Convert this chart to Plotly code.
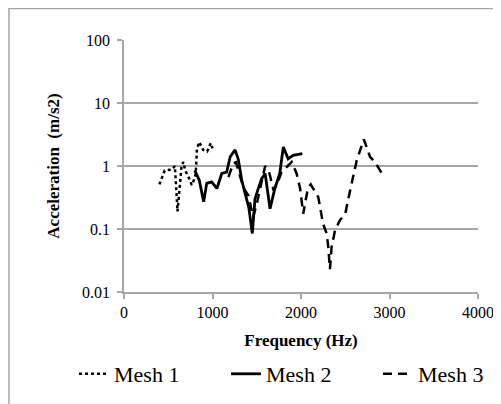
import plotly.graph_objects as go

mesh1_hz = [400, 460, 540, 575, 605, 650, 670, 692, 745, 765, 790, 810, 825, 850, 895, 940, 980, 1000]
mesh1_acc = [0.51, 0.85, 0.88, 1.0, 0.19, 1.0, 1.16, 0.85, 0.6, 0.5, 0.6, 0.75, 1.9, 2.4, 1.8, 1.7, 2.3, 1.9]

mesh2_hz = [800, 850, 900, 935, 990, 1050, 1105, 1160, 1200, 1255, 1290, 1330, 1370, 1410, 1450,
            1480, 1520, 1555, 1595, 1650, 1705, 1760, 1800, 1855, 1910, 1990, 2015]
mesh2_acc = [0.85, 0.6, 0.27, 0.53, 0.56, 0.44, 0.76, 0.8, 1.4, 1.8, 1.3, 0.6, 0.36, 0.22, 0.085,
             0.3, 0.45, 0.63, 0.76, 0.21, 0.44, 0.76, 2.0, 1.3, 1.48, 1.57, 1.57]

mesh3_hz = [1180, 1235, 1265, 1300, 1350, 1405, 1460, 1500, 1555, 1595, 1640, 1690, 1745, 1780, 1850,
            1895, 1950, 1990, 2025, 2045, 2080, 2110, 2140, 2195, 2250, 2290, 2308, 2327, 2346, 2385,
            2440, 2500, 2555, 2630, 2710, 2780, 2835, 2930]
mesh3_acc = [0.67, 1.1, 1.15, 0.8, 0.45, 0.34, 0.155, 0.25, 0.53, 1.0, 0.8, 0.41, 0.59, 0.8, 1.0,
             1.16, 0.76, 0.44, 0.175, 0.25, 0.46, 0.51, 0.44, 0.32, 0.12, 0.085, 0.052, 0.023, 0.052, 0.096,
             0.138, 0.175, 0.41, 1.23, 2.65, 1.4, 1.16, 0.7]

x_ticks = [0, 1000, 2000, 3000, 4000]
y_ticks = [0.01, 0.1, 1, 10, 100]
y_tick_labels = ["0.01", "0.1", "1", "10", "100"]

FONT = "Liberation Serif"
GRID = "#a6a6a6"

# page body has an 8px margin; figure is sized to fill the rest of the window
W, H = 493, 396
L, T, PW, PH = 116, 32, 354, 252

fig = go.Figure()
fig.add_trace(go.Scatter(x=mesh1_hz, y=mesh1_acc, mode="lines", name="Mesh 1",
                         line=dict(color="black", width=2.5, dash="dot")))
fig.add_trace(go.Scatter(x=mesh2_hz, y=mesh2_acc, mode="lines", name="Mesh 2",
                         line=dict(color="black", width=2.8, dash="solid")))
fig.add_trace(go.Scatter(x=mesh3_hz, y=mesh3_acc, mode="lines", name="Mesh 3",
                         line=dict(color="black", width=2.5, dash="9px,6px")))

fig.update_layout(
    width=W, height=H,
    margin=dict(l=L, r=W - L - PW, t=T, b=H - T - PH, autoexpand=False),
    paper_bgcolor="white", plot_bgcolor="white",
    font=dict(family=FONT, color="black", size=16),
    showlegend=True,
    legend=dict(orientation="h", x=(66 - L) / PW, xanchor="left",
                y=(T + PH - 366) / PH, yanchor="middle",
                font=dict(size=22, family=FONT), entrywidth=107, entrywidthmode="pixels",
                bgcolor="rgba(0,0,0,0)"),
    xaxis=dict(range=[0, 4000], tickvals=x_ticks, showgrid=False, zeroline=False,
               showline=True, linecolor=GRID, linewidth=1.5, automargin=False,
               ticks="outside", ticklen=5, tickcolor=GRID, tickwidth=1.5,
               tickfont=dict(size=16, family=FONT),
               title=dict(text="<b>Frequency (Hz)</b>", font=dict(size=17, family=FONT), standoff=14)),
    yaxis=dict(type="log", range=[-2, 2], tickvals=y_ticks, ticktext=y_tick_labels,
               showgrid=True, gridcolor=GRID, gridwidth=1.5, zeroline=False,
               showline=True, linecolor=GRID, linewidth=1.5, automargin=False,
               ticks="outside", ticklen=5, tickcolor=GRID, tickwidth=1.5,
               ticklabelstandoff=4,
               tickfont=dict(size=16, family=FONT),
               title=dict(text="<b>Acceleration  (m/s2)</b>", font=dict(size=17, family=FONT), standoff=18)),
    shapes=[dict(type="rect", xref="paper", yref="paper",
                 x0=(1 - L) / PW, x1=(W + 5 - L) / PW,
                 y0=(T + PH - (H + 10)) / PH, y1=(T + PH - 0.5) / PH,
                 line=dict(color=GRID, width=1.5), layer="below")],
)

fig.write_html("out.html")
